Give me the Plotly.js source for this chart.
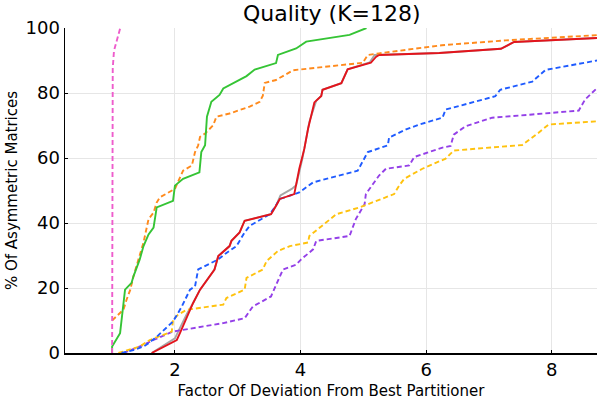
<!DOCTYPE html>
<html><head><meta charset="utf-8">
<script src="https://cdn.plot.ly/plotly-3.0.1.min.js"></script>
<style>body{margin:0;background:#fff}#c{width:600px;height:400px}</style>
</head><body><div id="c"></div>
<script>
const pinkX = [1.0, 1.0, 1.01, 1.03, 1.07, 1.13];
const pinkY = [0, 72, 87.6, 93, 96, 100];

const greenX = [1.0, 1.0, 1.127, 1.206, 1.31, 1.34, 1.44, 1.50, 1.58, 1.66, 1.71, 1.97, 2.0, 2.13, 2.39, 2.42, 2.48, 2.51, 2.58, 2.71, 2.77, 3.14, 3.27, 3.61, 3.64, 3.93, 4.09, 4.78, 5.05];
const greenY = [0, 2, 6.1, 19.5, 21.6, 23.6, 28.8, 32.9, 36.5, 38.6, 44.8, 46.8, 51.5, 53.6, 55.6, 61.8, 63.9, 72.7, 77.3, 79.4, 81.4, 85.2, 87.2, 89.2, 91.7, 93.7, 95.8, 97.9, 100];

const orangeX = [1.0, 1.13, 1.18, 1.23, 1.29, 1.34, 1.44, 1.50, 1.58, 1.66, 1.71, 1.76, 2.0, 2.13, 2.27, 2.32, 2.37, 2.40, 2.48, 2.61, 2.66, 2.87, 3.19, 3.35, 3.40, 3.43, 3.61, 3.88, 4.99, 5.07, 5.25, 5.62, 6.25, 7.27, 8.32, 8.72];
const orangeY = [10, 12.3, 13.3, 16.4, 19.5, 23.6, 29.8, 34.0, 41.2, 43.2, 46.3, 47.9, 50.5, 56.1, 57.7, 61.8, 63.9, 66.5, 67.5, 70.1, 72.7, 73.7, 75.8, 77.3, 79.2, 83.1, 84.0, 87.0, 89.3, 91.7, 92.2, 93.1, 94.7, 96.2, 97.2, 97.8];

const grayX = [1.63, 2.0, 2.05, 2.19, 2.29, 2.40, 2.48, 2.63, 2.69, 2.87, 2.90, 3.03, 3.11, 3.53, 3.61, 3.68, 3.86, 3.93, 4.03, 4.14, 4.25, 4.33, 4.35, 4.65, 4.75, 5.10, 5.18, 6.21, 7.19, 7.40, 8.72];
const grayY = [0, 4.5, 6.5, 12, 15.4, 19.5, 21.6, 25.7, 29.8, 32.9, 34.5, 37.1, 40.7, 42.7, 45.3, 48.5, 50.5, 51.6, 59.8, 71.1, 77.6, 79.1, 81.0, 83.0, 87.3, 89.4, 91.7, 92.3, 93.6, 95.7, 96.9];

const redX = [1.63, 2.03, 2.08, 2.19, 2.29, 2.40, 2.48, 2.63, 2.69, 2.87, 2.90, 3.03, 3.11, 3.53, 3.61, 3.67, 3.90, 3.98, 4.06, 4.12, 4.22, 4.33, 4.35, 4.65, 4.75, 5.12, 5.20, 5.25, 6.21, 7.19, 7.40, 8.72];
const redY = [0, 4.0, 6.1, 11.2, 15.4, 19.5, 21.6, 25.7, 29.8, 32.9, 34.5, 37.1, 40.7, 42.7, 45.3, 47.4, 48.9, 56.7, 62.8, 69.0, 77.1, 79.1, 81.0, 83.0, 87.3, 89.3, 91.1, 91.7, 92.3, 93.6, 95.7, 96.9];

const blueX = [1.15, 1.34, 1.50, 1.58, 1.71, 1.97, 2.05, 2.11, 2.24, 2.32, 2.37, 2.69, 2.82, 2.98, 3.11, 3.19, 3.51, 3.59, 3.67, 3.88, 3.98, 4.20, 4.83, 4.91, 5.07, 5.39, 5.41, 5.68, 5.89, 6.26, 6.31, 7.10, 7.18, 7.69, 7.90, 8.72];
const blueY = [0, 0.9, 2.0, 3.0, 5.0, 9.7, 12.3, 14.3, 19.5, 20.5, 25.7, 28.8, 30.8, 32.9, 37.1, 39.1, 42.7, 44.8, 47.4, 48.9, 49.4, 52.5, 55.6, 56.1, 61.8, 63.9, 66.3, 68.8, 70.3, 72.4, 74.9, 79.0, 81.0, 83.5, 87.1, 90.0];

const yellowX = [1.1, 1.44, 1.60, 1.95, 1.97, 2.05, 2.19, 2.77, 2.82, 3.11, 3.14, 3.40, 3.46, 3.64, 3.83, 4.12, 4.14, 4.41, 4.57, 4.94, 5.49, 5.57, 5.65, 5.94, 6.31, 6.44, 7.53, 7.79, 7.95, 8.72];
const yellowY = [0, 2.0, 4.0, 6.6, 10.2, 11.8, 13.3, 14.9, 16.9, 19.5, 23.1, 25.7, 28.3, 31.4, 32.9, 34.0, 36.0, 40.1, 42.7, 44.8, 48.9, 51.5, 53.6, 56.7, 59.8, 62.3, 64.0, 67.8, 70.3, 71.3];

const purpleX = [1.18, 1.44, 1.66, 1.97, 2.77, 3.11, 3.24, 3.53, 3.72, 3.93, 4.01, 4.20, 4.25, 4.78, 4.88, 5.02, 5.04, 5.25, 5.36, 5.73, 5.81, 6.26, 6.39, 6.44, 6.63, 7.05, 7.69, 8.43, 8.53, 8.72];
const purpleY = [0, 2.0, 4.0, 6.6, 9.2, 10.7, 14.3, 17.4, 25.7, 27.2, 28.8, 31.9, 34.5, 36.0, 41.2, 45.8, 48.9, 54.6, 56.7, 57.7, 60.3, 63.2, 63.7, 67.2, 69.8, 72.4, 73.4, 74.6, 78.0, 81.5];

const xTicks = [2, 4, 6, 8];
const yTicks = [0, 20, 40, 60, 80, 100];

function tr(x, y, color, dash) {
  return {x: x, y: y, type: 'scatter', mode: 'lines',
    line: {color: color, width: 1.9, dash: dash}, hoverinfo: 'skip'};
}
const DASH = '5px,3px';
const data = [
  tr(grayX, grayY, '#a6a6a6', 'solid'),
  tr(purpleX, purpleY, '#9440e8', DASH),
  tr(yellowX, yellowY, '#ffc20e', DASH),
  tr(blueX, blueY, '#1f5bff', DASH),
  tr(redX, redY, '#e3141c', 'solid'),
  tr(orangeX, orangeY, '#ff8a1c', DASH),
  tr(greenX, greenY, '#35c435', 'solid'),
  tr(pinkX, pinkY, '#ee5ccc', DASH)
];
const font = 'DejaVu Sans, sans-serif';
const layout = {
  width: 600, height: 400,
  margin: {l: 65, r: 3, t: 28, b: 47},
  paper_bgcolor: '#fff', plot_bgcolor: '#fff',
  showlegend: false,
  font: {family: font, color: '#000'},
  title: {text: 'Quality (K=128)', font: {family: font, size: 22, color: '#000'},
    x: 0.553, xanchor: 'center', y: 0.985, yanchor: 'top'},
  xaxis: {range: [0.25, 8.72], tickvals: xTicks, ticktext: xTicks.map(String),
    ticks: 'inside', ticklen: 3, tickcolor: '#000', showgrid: true, gridcolor: '#e6e6e6',
    zeroline: false, showline: true, linecolor: '#000', linewidth: 1.5,
    tickfont: {family: font, size: 18, color: '#000'},
    title: {text: 'Factor Of Deviation From Best Partitioner', font: {family: font, size: 15, color: '#000'}, standoff: 8}},
  yaxis: {range: [0, 100], tickvals: yTicks, ticktext: yTicks.map(String),
    ticks: 'inside', ticklen: 3, tickcolor: '#000', showgrid: true, gridcolor: '#e6e6e6',
    zeroline: false, showline: true, linecolor: '#000', linewidth: 1.5,
    tickfont: {family: font, size: 18, color: '#000'},
    title: {text: '% Of Asymmetric Matrices', font: {family: font, size: 15, color: '#000'}, standoff: 4}}
};
Plotly.newPlot('c', data, layout, {staticPlot: true});
</script></body></html>
